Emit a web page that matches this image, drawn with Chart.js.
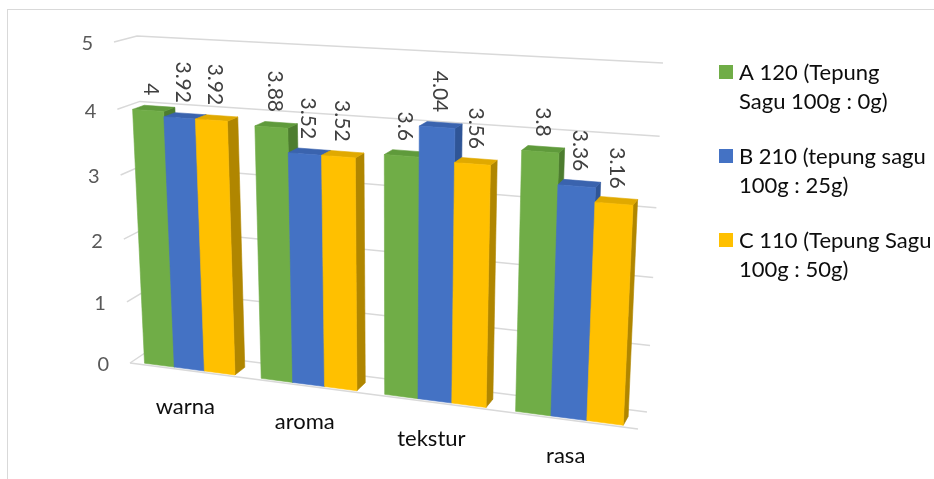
<!DOCTYPE html>
<html>
<head>
<meta charset="utf-8">
<title>Uji organoleptik</title>
<script src="https://cdn.jsdelivr.net/npm/chart.js@4.4.1/dist/chart.umd.min.js"></script>
<style>
  html, body { margin: 0; padding: 0; background: #fff; }
  #wrap { position: relative; width: 934px; height: 479px; overflow: hidden; }
  #frame { position: absolute; left: 7px; top: 9px; width: 1000px; height: 600px; border: 1px solid #d9d9d9; box-sizing: border-box; }
  #chart { position: absolute; left: 0; top: 0; }
</style>
</head>
<body>
<div id="wrap">
  <div id="frame"></div>
  <canvas id="chart" width="934" height="479"></canvas>
</div>
<script>
const categories = ["warna", "aroma", "tekstur", "rasa"];
const seriesA = [4, 3.88, 3.6, 3.8];
const seriesB = [3.92, 3.52, 4.04, 3.36];
const seriesC = [3.92, 3.52, 3.56, 3.16];
const seriesNames = [
  ["A 120 (Tepung", "Sagu 100g : 0g)"],
  ["B 210 (tepung sagu", "100g : 25g)"],
  ["C 110 (Tepung Sagu", "100g : 50g)"]
];
const yTicks = [0, 1, 2, 3, 4, 5];

// face colours per series: front, top, side
const shades = [
  ["#70ad47", "#5f9a3b", "#4d7d2f"],
  ["#4472c4", "#3a63ae", "#2f5597"],
  ["#ffc000", "#e0a900", "#b08600"]
];

// unit square (u to the right, t upwards) -> screen quad, perspective map
function quadMap(p00, p10, p11, p01) {
  const x0 = p00[0], y0 = p00[1], x1 = p10[0], y1 = p10[1];
  const x2 = p11[0], y2 = p11[1], x3 = p01[0], y3 = p01[1];
  const dx1 = x1 - x2, dx2 = x3 - x2, dx3 = x0 - x1 + x2 - x3;
  const dy1 = y1 - y2, dy2 = y3 - y2, dy3 = y0 - y1 + y2 - y3;
  const den = dx1 * dy2 - dx2 * dy1;
  const g = (dx3 * dy2 - dx2 * dy3) / den;
  const h = (dx1 * dy3 - dx3 * dy1) / den;
  const a = x1 - x0 + g * x1, b = x3 - x0 + h * x3, c = x0;
  const d = y1 - y0 + g * y1, e = y3 - y0 + h * y3, f = y0;
  return (u, t) => {
    const z = g * u + h * t + 1;
    return [(a * u + b * t + c) / z, (d * u + e * t + f) / z];
  };
}

// front and back planes of the plot box
const frontPlane = quadMap([130, 363], [638, 429], [655, 70], [114, 42]);
const backPlane = quadMap([151, 349], [647, 412], [663, 63], [137, 36]);

function project(u, t, w) {
  const f = frontPlane(u, t), b = backPlane(u, t);
  return [f[0] + (b[0] - f[0]) * w, f[1] + (b[1] - f[1]) * w];
}

function poly(ctx, pts, fill) {
  ctx.beginPath();
  ctx.moveTo(pts[0][0], pts[0][1]);
  for (let i = 1; i < pts.length; i++) ctx.lineTo(pts[i][0], pts[i][1]);
  ctx.closePath();
  ctx.fillStyle = fill;
  ctx.fill();
  ctx.strokeStyle = fill;
  ctx.lineWidth = 0.6;
  ctx.stroke();
}

const barDepth = { front: 0.1, back: 0.62 };

const box3d = {
  id: "box3d",
  beforeDatasetsDraw(chart) {
    const ctx = chart.ctx;
    const area = chart.chartArea;
    const xScale = chart.scales.x;
    const yScale = chart.scales.y;
    const toU = px => (px - area.left) / area.width;
    const toT = py => (area.bottom - py) / area.height;

    ctx.save();

    // side wall + back wall gridlines, floor front edge
    ctx.strokeStyle = "#d9d9d9";
    ctx.lineWidth = 1.5;
    yTicks.forEach(v => {
      const t = toT(yScale.getPixelForValue(v));
      const a = project(0, t, 0), b = project(0, t, 1), c = project(1, t, 1);
      ctx.beginPath();
      ctx.moveTo(a[0], a[1]);
      ctx.lineTo(b[0], b[1]);
      ctx.lineTo(c[0], c[1]);
      ctx.stroke();
    });
    const e0 = project(0, 0, 0), e1 = project(1, 0, 0);
    ctx.beginPath();
    ctx.moveTo(e0[0], e0[1]);
    ctx.lineTo(e1[0], e1[1]);
    ctx.stroke();

    // y tick labels next to the side wall
    ctx.font = "20px Lato";
    ctx.fillStyle = "#595959";
    ctx.textAlign = "right";
    ctx.textBaseline = "middle";
    yTicks.forEach(v => {
      const p = project(0, toT(yScale.getPixelForValue(v)), 0);
      ctx.fillText(String(v), p[0] - 21, p[1] + 2);
    });

    // category labels under the floor
    ctx.font = "22px Lato";
    ctx.fillStyle = "#0d0d0d";
    ctx.textAlign = "center";
    categories.forEach((c, i) => {
      const p = project(toU(xScale.getPixelForValue(i)), 0, 0);
      ctx.fillText(c, p[0] - 2, p[1] + 36);
    });

    // 3d columns, left to right so each one hides its neighbour's side
    const labels = [];
    const metas = chart.data.datasets.map((ds, di) => chart.getDatasetMeta(di));
    categories.forEach((c, i) => {
      metas.forEach((meta, di) => {
        const el = meta.data[i];
        const u0 = toU(el.x - el.width / 2), u1 = toU(el.x + el.width / 2);
        const t0 = toT(el.base), t1 = toT(el.y);
        const w0 = barDepth.front, w1 = barDepth.back;
        const col = shades[di];
        poly(ctx, [project(u1, t0, w0), project(u1, t0, w1), project(u1, t1, w1), project(u1, t1, w0)], col[2]);
        poly(ctx, [project(u0, t1, w0), project(u1, t1, w0), project(u1, t1, w1), project(u0, t1, w1)], col[1]);
        poly(ctx, [project(u0, t0, w0), project(u1, t0, w0), project(u1, t1, w0), project(u0, t1, w0)], col[0]);
        const top = project((u0 + u1) / 2, t1, w0);
        labels.push([chart.data.datasets[di].data[i], top[0] + 3, top[1] - 15]);
      });
    });

    // rotated value labels
    ctx.font = "21px Lato";
    ctx.fillStyle = "#404040";
    ctx.textAlign = "right";
    ctx.textBaseline = "middle";
    labels.forEach(([val, x, y]) => {
      ctx.save();
      ctx.translate(x, y);
      ctx.rotate(Math.PI / 2);
      ctx.fillText(String(val), 0, 0);
      ctx.restore();
    });

    // legend
    ctx.font = "22px Lato";
    ctx.textAlign = "left";
    ctx.textBaseline = "middle";
    seriesNames.forEach((lines, k) => {
      const y = 72 + k * 84;
      ctx.fillStyle = shades[k][0];
      ctx.fillRect(719, y - 7, 14, 14);
      ctx.fillStyle = "#0d0d0d";
      lines.forEach((s, j) => ctx.fillText(s, 739, y + 1 + j * 29));
    });

    ctx.restore();
    return false;
  }
};

new Chart(document.getElementById("chart"), {
  type: "bar",
  data: {
    labels: categories,
    datasets: [
      { label: seriesNames[0].join(" "), data: seriesA, backgroundColor: shades[0][0] },
      { label: seriesNames[1].join(" "), data: seriesB, backgroundColor: shades[1][0] },
      { label: seriesNames[2].join(" "), data: seriesC, backgroundColor: shades[2][0] }
    ]
  },
  options: {
    responsive: false,
    animation: false,
    layout: { padding: 0 },
    datasets: { bar: { categoryPercentage: 0.78, barPercentage: 1 } },
    scales: {
      x: { display: false },
      y: { display: false, min: 0, max: 5 }
    },
    plugins: {
      legend: { display: false },
      tooltip: { enabled: false }
    }
  },
  plugins: [box3d]
});
</script>
</body>
</html>
